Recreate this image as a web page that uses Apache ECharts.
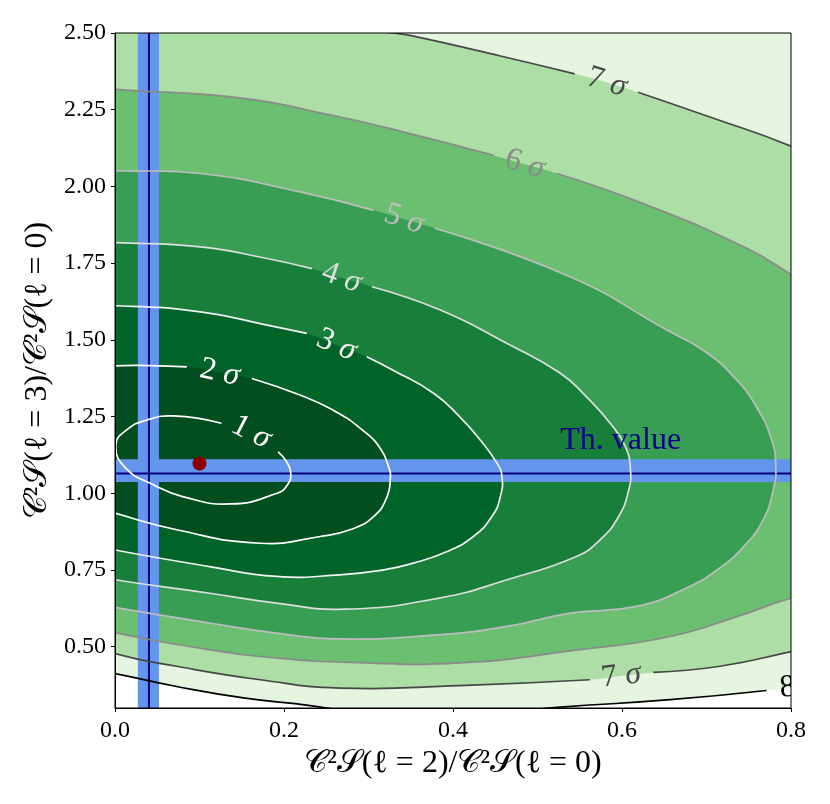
<!DOCTYPE html>
<html>
<head>
<meta charset="utf-8">
<script src="https://cdn.jsdelivr.net/npm/echarts@6/dist/echarts.min.js"></script>
<style>
html, body { margin: 0; padding: 0; background: #fff; }
#chart { width: 830px; height: 804px; }
</style>
</head>
<body>
<div id="chart"></div>
<script>
// axis ranges and tick values
const xRange = [0, 0.8];
const yRange = [0.3, 2.5];
const xTicks = [0, 0.2, 0.4, 0.6, 0.8];
const yTicks = [0.5, 0.75, 1.0, 1.25, 1.5, 1.75, 2.0, 2.25, 2.5];

// contour rings (data units), null marks where the label cuts the line
// points slightly outside the frame only close the filled areas, they get clipped
const sigma1 = [
    [0.001, 1.157], [0.015, 1.209], [0.036, 1.237], [0.069, 1.252], [0.126, 1.228], null,
    [0.160, 1.193], null,
    [0.193, 1.135], [0.203, 1.103], [0.208, 1.065], [0.204, 1.027], [0.192, 1.000], [0.137, 0.965],
    [0.080, 0.989], [0.046, 1.027], [0.013, 1.081]
];
const sigma2 = [
    [0.000, 1.415], [0.041, 1.416], [0.085, 1.412], null,
    [0.124, 1.393], null,
    [0.162, 1.374], [0.219, 1.320], [0.258, 1.271], [0.290, 1.212], [0.314, 1.146],
    [0.325, 1.076], [0.326, 1.053], [0.322, 0.989], [0.306, 0.924], [0.278, 0.881],
    [0.243, 0.859], [0.172, 0.837], [0.073, 0.881], [0.000, 0.935],
    [-0.018, 0.952], [-0.027, 1.174], [-0.018, 1.408]
];
const sigma3 = [
    [0.000, 1.611], [0.101, 1.591], [0.180, 1.548], [0.227, 1.521], null,
    [0.262, 1.483], null,
    [0.298, 1.445], [0.329, 1.401], [0.377, 1.326], [0.408, 1.249], [0.432, 1.174],
    [0.452, 1.098], [0.458, 1.054], [0.456, 0.989], [0.446, 0.924], [0.424, 0.859],
    [0.393, 0.810], [0.353, 0.772], [0.318, 0.750], [0.266, 0.734], [0.191, 0.729],
    [0.112, 0.761], [0.000, 0.815],
    [-0.024, 0.832], [-0.036, 1.206], [-0.024, 1.603]
];
const sigma4 = [
    [0.000, 1.817], [0.101, 1.803], [0.180, 1.765], [0.233, 1.732], null,
    [0.268, 1.702], null,
    [0.304, 1.673], [0.385, 1.597], [0.464, 1.488], [0.527, 1.391], [0.558, 1.314],
    [0.586, 1.228], [0.604, 1.152], [0.610, 1.076], [0.608, 1.011], [0.596, 0.924],
    [0.574, 0.848], [0.546, 0.794], [0.464, 0.718], [0.385, 0.659], [0.272, 0.622],
    [0.191, 0.642], [0.112, 0.674], [0.000, 0.718],
    [-0.024, 0.734], [-0.041, 1.304], [-0.024, 1.818]
];
const sigma5 = [
    [0.000, 2.051], [0.101, 2.042], [0.219, 1.982], [0.306, 1.922], null,
    [0.342, 1.893], null,
    [0.379, 1.863], [0.539, 1.705], [0.653, 1.532], [0.696, 1.466], [0.732, 1.380],
    [0.759, 1.282], [0.777, 1.174], [0.782, 1.087], [0.779, 1.011], [0.767, 0.913],
    [0.744, 0.826], [0.716, 0.757], [0.677, 0.692], [0.617, 0.631], [0.539, 0.609],
    [0.464, 0.566], [0.385, 0.539], [0.266, 0.525], [0.191, 0.544], [0.112, 0.577],
    [0.000, 0.628],
    [-0.024, 0.643], [-0.053, 1.304], [-0.024, 2.054]
];
const sigma6 = [
    [0.000, 2.316], [0.140, 2.291], [0.258, 2.231], [0.349, 2.172], [0.448, 2.101], null,
    [0.485, 2.072], null,
    [0.523, 2.042], [0.625, 1.944], [0.744, 1.803], [0.800, 1.713],
    [0.846, 1.629], [0.870, 1.141], [0.846, 0.685],
    [0.800, 0.658], [0.736, 0.598], [0.657, 0.533], [0.550, 0.490], [0.408, 0.447],
    [0.278, 0.449], [0.191, 0.463], [0.112, 0.490], [0.000, 0.546],
    [-0.030, 0.571], [-0.065, 1.434], [-0.030, 2.329]
];
const sigma7 = [
    [0.329, 2.500], [0.349, 2.492], [0.456, 2.425], [0.544, 2.367], null,
    [0.582, 2.339], null,
    [0.619, 2.307], [0.704, 2.226], [0.800, 2.131],
    [0.858, 2.052], [0.894, 1.304], [0.858, 0.522],
    [0.800, 0.484], [0.716, 0.436], [0.637, 0.416], null,
    [0.599, 0.404], null,
    [0.562, 0.392], [0.408, 0.373], [0.266, 0.365], [0.172, 0.392], [0.073, 0.436], [0.000, 0.477],
    [-0.041, 0.522], [-0.065, 1.629], [-0.018, 2.573], [0.254, 2.524]
];
const sigma8 = [
    [0.000, 0.412], [0.073, 0.370], [0.152, 0.333], [0.231, 0.308], [0.290, 0.285],
    [0.373, 0.275], [0.479, 0.291], [0.527, 0.303], [0.657, 0.327], [0.771, 0.357], null,
    [0.810, 0.369], null,
    [0.870, 0.382], [0.950, 1.300], [0.950, 2.800], [-0.100, 2.800], [-0.090, 1.300], [-0.041, 0.431]
];

const levelNames = ['1', '2', '3', '4', '5', '6', '7', '8'];
// [level index, x, y, tilt in degrees]
const labelSpots = [
    [0, 0.161, 1.199, -27],
    [1, 0.124, 1.393, -12],
    [2, 0.262, 1.483, -23],
    [3, 0.268, 1.702, -19],
    [4, 0.342, 1.893, -19],
    [5, 0.485, 2.072, -17],
    [6, 0.582, 2.339, -17],
    [6, 0.599, 0.404, 6.6],
    [7, 0.810, 0.369, 5.5]
];

// theory value and its band, best fit point
const thValue = [0.0402, 1.064];
const thBandX = [0.027, 0.052];
const thBandY = [1.037, 1.111];
const bestFit = [0.100, 1.097];
const thText = ['Th. value', 0.527, 1.173];

const lineRings = [sigma1, sigma2, sigma3, sigma4, sigma5, sigma6, sigma7, sigma8];
const fillRings = [sigma8, sigma7, sigma6, sigma5, sigma4, sigma3, sigma2];
const fillColors = ['#e5f5e0', '#acdea6', '#6bbf71', '#379e54', '#177f3a', '#006428', '#034e1e'];
const lineColors = ['#ffffff', '#ffffff', '#f2f2f2', '#dedede', '#bdbdbd', '#8a8a8a', '#474747', '#000000'];

const serif = "'Liberation Serif', 'DejaVu Serif', serif";
const smooth = 0.5;

// open the ring at its first gap and cut it into the drawn pieces
function splitRing(ring) {
    const cut = ring.indexOf(null);
    if (cut < 0) return [ring.concat([ring[0]])];
    const seq = ring.slice(cut + 1).concat(ring.slice(0, cut));
    const segs = [[]];
    seq.forEach(function (p) {
        if (p) segs[segs.length - 1].push(p);
        else segs.push([]);
    });
    return segs.filter(function (s) { return s.length > 1; });
}

const myChart = echarts.init(document.getElementById('chart'));

const option = {
    animation: false,
    backgroundColor: '#fff',
    grid: {
        left: 115, top: 33, width: 676, height: 675,
        show: true, borderColor: '#000', borderWidth: 1,
        backgroundColor: 'transparent', z: 10
    },
    xAxis: {
        type: 'value', min: xRange[0], max: xRange[1],
        name: '𝒞²𝒮(ℓ = 2)/𝒞²𝒮(ℓ = 0)',
        nameLocation: 'middle', nameGap: 37,
        nameTextStyle: { fontFamily: serif, fontSize: 32, color: '#000' },
        axisLine: { show: true, lineStyle: { color: '#000', width: 1 } },
        axisTick: { show: true, length: 4, lineStyle: { color: '#000' }, customValues: xTicks },
        axisLabel: {
            fontFamily: serif, fontSize: 24, color: '#000', margin: 11,
            customValues: xTicks,
            formatter: function (v) { return v.toFixed(1); }
        },
        splitLine: { show: false },
        z: 10
    },
    yAxis: {
        type: 'value', min: yRange[0], max: yRange[1],
        name: '𝒞²𝒮(ℓ = 3)/𝒞²𝒮(ℓ = 0)',
        nameLocation: 'middle', nameGap: 60,
        nameTextStyle: { fontFamily: serif, fontSize: 32, color: '#000' },
        axisLine: { show: true, lineStyle: { color: '#000', width: 1 } },
        axisTick: { show: true, length: 4, lineStyle: { color: '#000' }, customValues: yTicks },
        axisLabel: {
            fontFamily: serif, fontSize: 24, color: '#000', margin: 9,
            customValues: yTicks,
            formatter: function (v) { return v.toFixed(2); }
        },
        splitLine: { show: false },
        z: 10
    },
    series: [
        {
            // filled sigma regions, outermost first
            type: 'custom', coordinateSystem: 'cartesian2d', clip: true, silent: true, z: 2,
            data: fillRings.map(function (r, i) { return [i, 1]; }),
            renderItem: function (params, api) {
                const pts = fillRings[params.dataIndex].filter(function (p) { return p; })
                    .map(function (p) { return api.coord(p); });
                return {
                    type: 'polygon',
                    shape: { points: pts, smooth: smooth },
                    style: { fill: fillColors[params.dataIndex], stroke: null }
                };
            }
        },
        {
            // theory bands
            type: 'custom', coordinateSystem: 'cartesian2d', clip: true, silent: true, z: 3,
            data: [[0, 1], [1, 1]],
            renderItem: function (params, api) {
                let a, b;
                if (params.dataIndex === 0) {
                    a = api.coord([thBandX[0], yRange[1]]);
                    b = api.coord([thBandX[1], yRange[0]]);
                } else {
                    a = api.coord([xRange[0], thBandY[1]]);
                    b = api.coord([xRange[1], thBandY[0]]);
                }
                return {
                    type: 'rect',
                    shape: { x: a[0], y: a[1], width: b[0] - a[0], height: b[1] - a[1] },
                    style: { fill: '#6495ed' }
                };
            }
        },
        {
            // theory lines
            type: 'custom', coordinateSystem: 'cartesian2d', clip: true, silent: true, z: 4,
            data: [[0, 1], [1, 1]],
            renderItem: function (params, api) {
                let a, b;
                if (params.dataIndex === 0) {
                    a = api.coord([thValue[0], yRange[1]]);
                    b = api.coord([thValue[0], yRange[0]]);
                } else {
                    a = api.coord([xRange[0], thValue[1]]);
                    b = api.coord([xRange[1], thValue[1]]);
                }
                return {
                    type: 'line',
                    shape: { x1: a[0], y1: a[1], x2: b[0], y2: b[1] },
                    style: { stroke: '#000080', lineWidth: 2 }
                };
            }
        },
        {
            // contour lines
            type: 'custom', coordinateSystem: 'cartesian2d', clip: true, silent: true, z: 5,
            data: lineRings.map(function (r, i) { return [i, 1]; }),
            renderItem: function (params, api) {
                const segs = splitRing(lineRings[params.dataIndex]);
                return {
                    type: 'group',
                    children: segs.map(function (s) {
                        return {
                            type: 'polyline',
                            shape: { points: s.map(function (p) { return api.coord(p); }), smooth: smooth },
                            style: { stroke: lineColors[params.dataIndex], lineWidth: 1.7, fill: null }
                        };
                    })
                };
            }
        },
        {
            // contour labels
            type: 'custom', coordinateSystem: 'cartesian2d', clip: true, silent: true, z: 6,
            data: labelSpots.map(function (s) { return [s[1], s[2]]; }),
            renderItem: function (params, api) {
                const s = labelSpots[params.dataIndex];
                const pt = api.coord([s[1], s[2]]);
                return {
                    type: 'text',
                    x: pt[0], y: pt[1],
                    rotation: s[3] * Math.PI / 180,
                    style: {
                        text: '{d|' + levelNames[s[0]] + ' }{s|σ}',
                        align: 'center', verticalAlign: 'middle',
                        rich: {
                            d: { fontFamily: serif, fontSize: 32, fill: lineColors[s[0]] },
                            s: { fontFamily: serif, fontSize: 32, fontStyle: 'italic', fill: lineColors[s[0]] }
                        }
                    }
                };
            }
        },
        {
            type: 'scatter', z: 7, silent: true,
            data: [bestFit],
            symbol: 'circle', symbolSize: 14,
            itemStyle: { color: '#8b0000', opacity: 1 }
        },
        {
            type: 'custom', coordinateSystem: 'cartesian2d', clip: false, silent: true, z: 8,
            data: [[thText[1], thText[2]]],
            renderItem: function (params, api) {
                const pt = api.coord([thText[1], thText[2]]);
                return {
                    type: 'text',
                    x: pt[0], y: pt[1],
                    style: {
                        text: thText[0], align: 'left', verticalAlign: 'middle',
                        fontFamily: serif, fontSize: 32, fill: '#00008b'
                    }
                };
            }
        }
    ]
};

myChart.setOption(option);
</script>
</body>
</html>
